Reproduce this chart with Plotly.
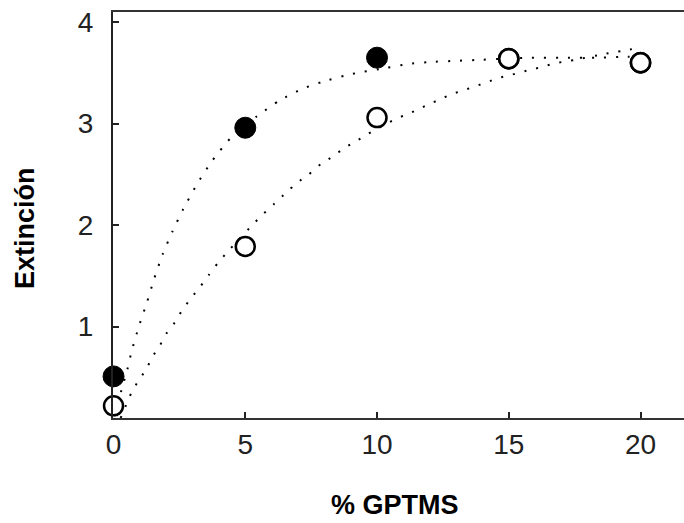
import plotly.graph_objects as go

# Measured data points
x_pts = [0, 5, 10, 15, 20]
filled_y = [0.51, 2.96, 3.65, 3.64, 3.60]
open_y = [0.22, 1.79, 3.06, 3.64, 3.60]

# Fitted curves
fit1_x = [0.12, 0.32, 0.48, 0.69, 0.96, 1.27, 1.54, 1.86, 2.24, 2.65, 3.16, 3.76, 4.52,
          5.43, 6.31, 7.23, 8.16, 9.06, 10.36, 11.26, 12.2, 13.08, 14.0, 14.9, 15.8, 17.1,
          18.45, 19.5, 20.0]
fit1_y = [0.12, 0.40, 0.53, 0.76, 1.00, 1.24, 1.47, 1.71, 1.94, 2.16, 2.40, 2.64, 2.88,
          3.07, 3.23, 3.35, 3.43, 3.49, 3.55, 3.59, 3.61, 3.62, 3.63, 3.64, 3.65, 3.65,
          3.65, 3.66, 3.66]

fit2_x = [0.27, 0.48, 0.68, 0.93, 1.24, 1.47, 1.77, 2.0, 2.32, 2.6, 2.94, 3.28, 3.62,
          3.97, 4.37, 5.19, 5.64, 6.1, 6.55, 6.98, 7.41, 7.86, 8.34, 8.76, 9.22, 9.67,
          10.58, 11.02, 11.48, 11.95, 12.4, 12.83, 13.3, 13.75, 14.19, 14.6, 15.08, 15.5,
          15.98, 16.4, 16.86, 17.33, 18.7, 19.14, 19.58, 20.0]
fit2_y = [0.10, 0.23, 0.35, 0.46, 0.58, 0.70, 0.82, 0.93, 1.04, 1.16, 1.28, 1.39, 1.51,
          1.63, 1.75, 1.98, 2.10, 2.21, 2.32, 2.42, 2.50, 2.60, 2.68, 2.76, 2.83, 2.90,
          3.03, 3.08, 3.13, 3.19, 3.24, 3.29, 3.33, 3.37, 3.41, 3.45, 3.48, 3.51,
          3.54, 3.57, 3.60, 3.62, 3.69, 3.71, 3.73, 3.75]

x_ticks = [0, 5, 10, 15, 20]
y_ticks = [1, 2, 3, 4]

fig = go.Figure()
dotline = dict(color="black", width=2, dash="2px,10px", shape="spline", smoothing=0.6)
fig.add_trace(go.Scatter(x=fit1_x, y=fit1_y, mode="lines", line=dotline,
                         showlegend=False, hoverinfo="skip"))
fig.add_trace(go.Scatter(x=fit2_x, y=fit2_y, mode="lines", line=dotline,
                         showlegend=False, hoverinfo="skip"))
fig.add_trace(go.Scatter(x=x_pts, y=filled_y, mode="markers", cliponaxis=False,
                         marker=dict(size=21, color="black", line=dict(color="black", width=1)),
                         showlegend=False))
fig.add_trace(go.Scatter(x=x_pts, y=open_y, mode="markers", cliponaxis=False,
                         marker=dict(size=19, color="white", line=dict(color="black", width=2.5)),
                         showlegend=False))

font_tick = dict(family="Liberation Sans, Arial, sans-serif", size=28, color="#222")
title_font = dict(family="Liberation Sans, Arial, sans-serif", size=27, color="black")
fig.update_layout(
    width=684, height=523,
    margin=dict(l=113, r=0, t=12, b=105),
    paper_bgcolor="white", plot_bgcolor="white",
    xaxis=dict(range=[-0.02, 21.65], tickvals=x_ticks, ticktext=[str(v) for v in x_ticks],
               ticks="inside", ticklen=6, tickwidth=1.5, tickcolor="#222",
               showline=True, linecolor="#333", linewidth=2, mirror=True,
               showgrid=False, zeroline=False, tickfont=font_tick, ticklabelstandoff=0,
               automargin=False, ticklabeloverflow="allow"),
    yaxis=dict(range=[0.1, 4.1], tickvals=y_ticks, ticktext=[str(v) for v in y_ticks],
               ticks="inside", ticklen=6, tickwidth=1.5, tickcolor="#222",
               showline=True, linecolor="#222", linewidth=2,
               showgrid=False, zeroline=False, tickfont=font_tick, ticklabelstandoff=12,
               automargin=False, ticklabeloverflow="allow"),
    annotations=[
        dict(text="<b>% GPTMS</b>", xref="paper", yref="paper", x=0.493, y=-0.214,
             xanchor="center", yanchor="middle", showarrow=False, font=title_font),
        dict(text="<b>Extinción</b>", xref="paper", yref="paper", x=-0.154, y=0.468,
             xanchor="center", yanchor="middle", showarrow=False, textangle=-90,
             font=title_font),
    ],
)
# remove the browser's default 8px page margin so the figure fills the window exactly
fig.write_html("out.html",
               config={"displayModeBar": False},
               post_script="document.body.style.margin='0';document.body.style.overflow='hidden';")
